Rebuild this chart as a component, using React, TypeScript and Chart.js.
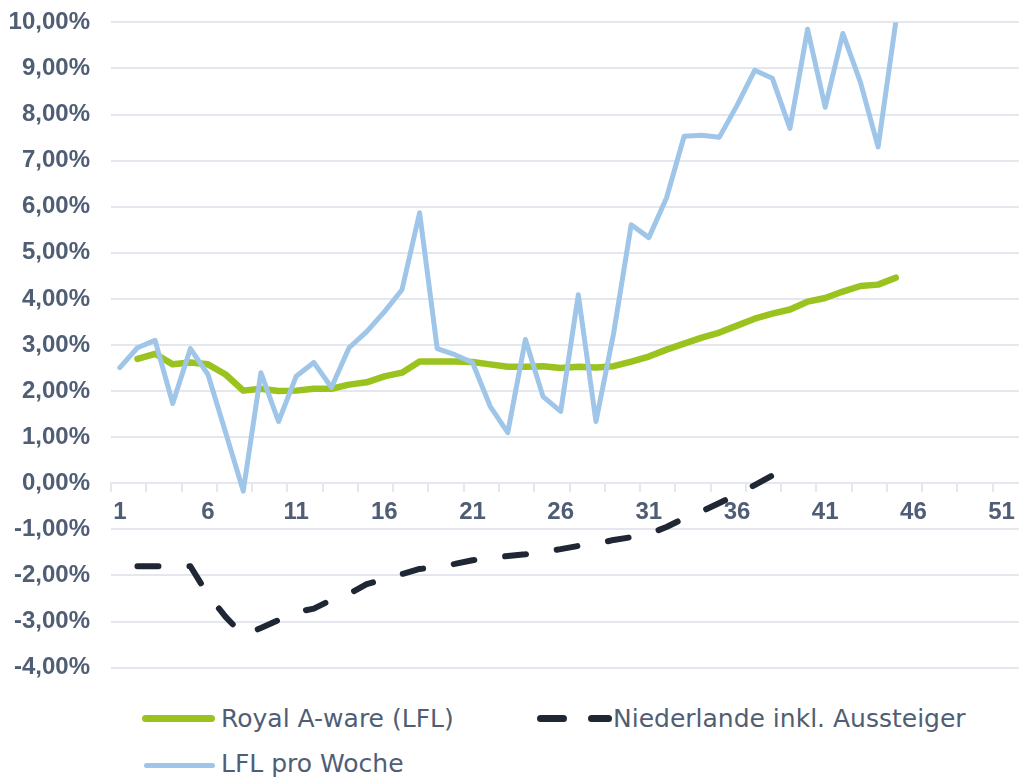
import React, { useEffect, useRef } from 'react';
import { Chart, registerables } from 'chart.js';

Chart.register(...registerables);

const weeks = [
  '1', '2', '3', '4', '5', '6', '7', '8', '9', '10',
  '11', '12', '13', '14', '15', '16', '17', '18', '19', '20',
  '21', '22', '23', '24', '25', '26', '27', '28', '29', '30',
  '31', '32', '33', '34', '35', '36', '37', '38', '39', '40',
  '41', '42', '43', '44', '45', '46', '47', '48', '49', '50',
  '51', '52',
];

const royalAWare = [
  null, 2.70, 2.81, 2.58, 2.62, 2.58, 2.36, 2.01, 2.05, 2.00,
  2.01, 2.05, 2.05, 2.14, 2.19, 2.32, 2.40, 2.64, 2.64, 2.64,
  2.63, 2.58, 2.53, 2.53, 2.54, 2.50, 2.53, 2.51, 2.54, 2.64,
  2.75, 2.90, 3.03, 3.16, 3.27, 3.42, 3.57, 3.68, 3.77, 3.94,
  4.02, 4.16, 4.28, 4.31, 4.46, null, null, null, null, null,
  null, null,
];

const niederlande = [
  null, -1.80, -1.80, -1.80, -1.80, -2.42, -2.90, -3.30, -3.14, -2.97,
  -2.80, -2.72, -2.53, -2.40, -2.19, -2.08, -1.97, -1.86, -1.82, -1.75,
  -1.67, -1.62, -1.58, -1.54, -1.49, -1.43, -1.36, -1.32, -1.23, -1.17,
  -1.10, -0.95, -0.76, -0.61, -0.43, -0.24, -0.04, 0.17, 0.32, null,
  null, null, null, null, null, null, null, null, null, null,
  null, null,
];

const lflProWoche = [
  2.51, 2.94, 3.10, 1.73, 2.92, 2.36, 1.10, -0.17, 2.40, 1.34,
  2.32, 2.62, 2.08, 2.94, 3.29, 3.72, 4.20, 5.87, 2.92, 2.79,
  2.62, 1.67, 1.10, 3.12, 1.88, 1.56, 4.09, 1.34, 3.25, 5.61,
  5.33, 6.19, 7.53, 7.55, 7.51, 8.20, 8.96, 8.79, 7.70, 9.85,
  8.16, 9.76, 8.70, 7.30, 10.0, null, null, null, null, null,
  null, null,
];

const yMin = -4;
const yMax = 10;

const GREEN = '#9bc31f';
const BLUE = '#9fc5e8';
const DARK = '#1f2734';
const GRID = '#e4e8ee';
const TEXT = '#505e75';

export default function App() {
  const canvasRef = useRef<HTMLCanvasElement | null>(null);

  useEffect(() => {
    const canvas = canvasRef.current;
    if (!canvas) return;
    const chart = new Chart(canvas, {
      type: 'line',
      data: {
        labels: weeks,
        datasets: [
          {
            label: 'LFL pro Woche',
            data: lflProWoche,
            borderColor: BLUE,
            borderWidth: 5,
            pointRadius: 0,
            tension: 0,
            borderJoinStyle: 'round',
            borderCapStyle: 'round',
            spanGaps: false,
          },
          {
            label: 'Niederlande inkl. Aussteiger',
            data: niederlande,
            borderColor: DARK,
            borderWidth: 6,
            borderDash: [21, 31],
            borderCapStyle: 'round',
            borderJoinStyle: 'round',
            pointRadius: 0,
            tension: 0,
          },
          {
            label: 'Royal A-ware (LFL)',
            data: royalAWare,
            borderColor: GREEN,
            borderWidth: 6.5,
            borderCapStyle: 'round',
            borderJoinStyle: 'round',
            pointRadius: 0,
            tension: 0,
          },
        ],
      },
      options: {
        responsive: false,
        animation: false,
        layout: { padding: { left: 0, right: 0, top: 9, bottom: 9 } },
        plugins: {
          legend: { display: false },
          tooltip: { enabled: false },
        },
        scales: {
          x: {
            type: 'category',
            offset: true,
            position: { y: 0 },
            border: { display: true, color: GRID, width: 2 },
            grid: {
              offset: true,
              drawOnChartArea: false,
              drawTicks: true,
              tickLength: 8,
              lineWidth: 2,
              color: (ctx: any) => (ctx.index % 2 === 0 ? GRID : 'rgba(0,0,0,0)'),
              tickColor: (ctx: any) => (ctx.index % 2 === 0 ? GRID : 'rgba(0,0,0,0)'),
            },
            ticks: {
              autoSkip: false,
              maxRotation: 0,
              minRotation: 0,
              padding: 7,
              color: TEXT,
              font: { family: '"Liberation Sans", Arial, sans-serif', size: 24, weight: 'bold' },
              callback: (_v: any, i: number) => (i % 5 === 0 ? weeks[i] : ''),
            },
          },
          y: {
            min: yMin,
            max: yMax,
            border: { display: false },
            grid: { color: GRID, lineWidth: 2, drawTicks: false },
            ticks: {
              stepSize: 1,
              padding: 21,
              color: TEXT,
              font: { family: '"Liberation Sans", Arial, sans-serif', size: 24, weight: 'bold' },
              callback: (v: any) => Number(v).toFixed(2).replace('.', ',') + '%',
            },
            afterFit: (scale: any) => {
              scale.width = 111;
            },
          },
        },
      },
    });
    return () => chart.destroy();
  }, []);

  const textStyle: React.CSSProperties = {
    position: 'absolute',
    fontFamily: '"DejaVu Sans", sans-serif',
    fontSize: 25,
    lineHeight: '30px',
    color: TEXT,
    whiteSpace: 'nowrap',
  };

  return (
    <div style={{ position: 'absolute', left: 0, top: 0, width: 1019, height: 780, overflow: 'hidden', background: '#fff' }}>
      <canvas ref={canvasRef} width={1028} height={716} style={{ position: 'absolute', left: 0, top: -13, width: 1028, height: 716 }} />
      <div style={{ position: 'absolute', left: 142, top: 715, width: 73, height: 7, borderRadius: 3.5, background: GREEN }} />
      <div style={{ ...textStyle, left: 221, top: 704 }}>Royal A-ware (LFL)</div>
      <div style={{ position: 'absolute', left: 537, top: 715, width: 30, height: 7, borderRadius: 3.5, background: DARK }} />
      <div style={{ position: 'absolute', left: 588, top: 715, width: 24, height: 7, borderRadius: 3.5, background: DARK }} />
      <div style={{ ...textStyle, left: 613, top: 704 }}>Niederlande inkl. Aussteiger</div>
      <div style={{ position: 'absolute', left: 144, top: 763, width: 71, height: 5, borderRadius: 2.5, background: BLUE }} />
      <div style={{ ...textStyle, left: 221, top: 749 }}>LFL pro Woche</div>
    </div>
  );
}
